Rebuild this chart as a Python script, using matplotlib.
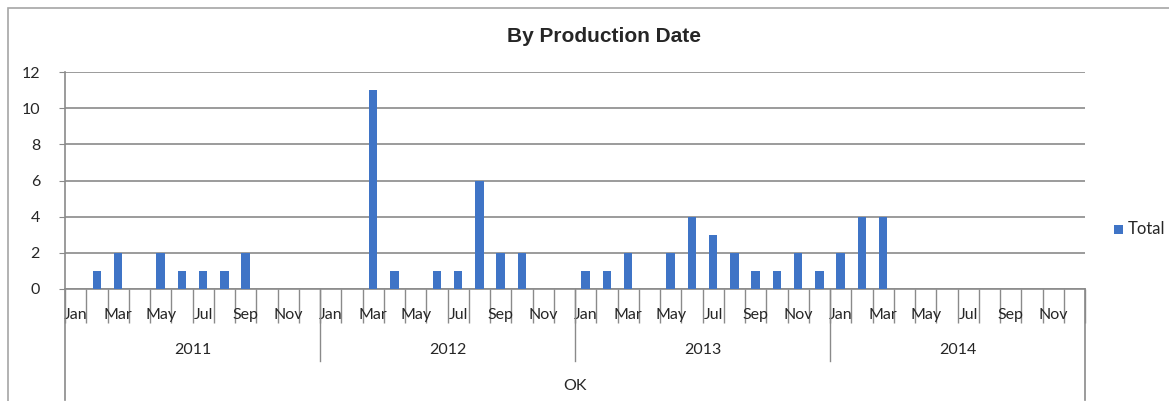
import matplotlib.pyplot as plt
import numpy as np
from matplotlib.patches import Rectangle

# данные по месяцам
months = ['Jan', 'Feb', 'Mar', 'Apr', 'May', 'Jun', 'Jul', 'Aug', 'Sep', 'Oct', 'Nov', 'Dec']
years = ['2011', '2012', '2013', '2014']
total_2011 = [0, 1, 2, 0, 2, 1, 1, 1, 2, 0, 0, 0]
total_2012 = [0, 0, 11, 1, 0, 1, 1, 6, 2, 2, 0, 0]
total_2013 = [1, 1, 2, 0, 2, 4, 3, 2, 1, 1, 2, 1]
total_2014 = [2, 4, 4, 0, 0, 0, 0, 0, 0, 0, 0, 0]
group_label = 'OK'
series_name = 'Total'

totals = total_2011 + total_2012 + total_2013 + total_2014
n = len(totals)
x = np.arange(n)

bar_color = '#3f74c6'
grid_color = '#8a8a8a'
text_color = '#262626'
plt.rcParams['font.family'] = ['Lato', 'DejaVu Sans']

W, H = 1169, 401
fig = plt.figure(figsize=(W / 100, H / 100), dpi=100)

# рамка области диаграммы
fig.patches.append(Rectangle((8 / W, -0.1), 1.2, (H - 8) / H + 0.1, transform=fig.transFigure,
                             fill=False, edgecolor='#a6a6a6', linewidth=1.2))

ax = fig.add_axes([65 / W, (H - 289) / H, 1020 / W, 217 / H])
ax.bar(x, totals, width=0.4, color=bar_color, zorder=3)

ax.set_xlim(-0.5, n - 0.5)
ax.set_ylim(0, 12)
ax.set_yticks(range(0, 13, 2))
ax.yaxis.grid(True, color=grid_color, linewidth=1.2)
ax.set_axisbelow(True)

for side in ['top', 'right']:
    ax.spines[side].set_visible(False)
ax.spines['left'].set_color(grid_color)
ax.spines['bottom'].set_color(grid_color)
ax.spines['left'].set_linewidth(1.2)
ax.spines['bottom'].set_linewidth(1.2)

ax.tick_params(axis='y', length=4, color=grid_color, pad=14, labelsize=11.5, labelcolor=text_color)

# деления между месяцами и подписи через месяц
ax.set_xticks(np.arange(-0.5, n, 1))
ax.set_xticklabels([])
ax.tick_params(axis='x', which='major', length=24.5, width=1, color=grid_color)
ax.set_xticks(x, minor=True)
labels = [months[i % 12] if i % 2 == 0 else '' for i in range(n)]
ax.set_xticklabels(labels, minor=True)
ax.tick_params(axis='x', which='minor', length=0, pad=14, labelsize=11.5, labelcolor=text_color)

# группы по годам
trans = ax.get_xaxis_transform()
for k, year in enumerate(years):
    ax.text(k * 12 + 5.5, -0.28, year, transform=trans, ha='center', va='center',
            fontsize=11.5, color=text_color)
    if k > 0:
        ax.plot([k * 12 - 0.5] * 2, [0, -0.33], transform=trans, color=grid_color,
                linewidth=1, clip_on=False)
for xb in [-0.5, n - 0.5]:
    ax.plot([xb, xb], [0, -0.51], transform=trans, color=grid_color, linewidth=1.2, clip_on=False)
ax.text((n - 1) / 2, -0.445, group_label, transform=trans, ha='center', va='center',
        fontsize=11.5, color=text_color)

fig.text(604 / W, (H - 37) / H, 'By Production Date', ha='center', va='center', fontsize=15,
         fontweight='bold', family='Liberation Sans', color=text_color)

# легенда
fig.patches.append(Rectangle((1114 / W, (H - 234) / H), 9 / W, 9 / H, transform=fig.transFigure,
                             facecolor=bar_color, edgecolor='none'))
fig.text(1128 / W, (H - 229) / H, series_name, ha='left', va='center', fontsize=12, color=text_color)

fig.savefig('out.png', dpi=100)
